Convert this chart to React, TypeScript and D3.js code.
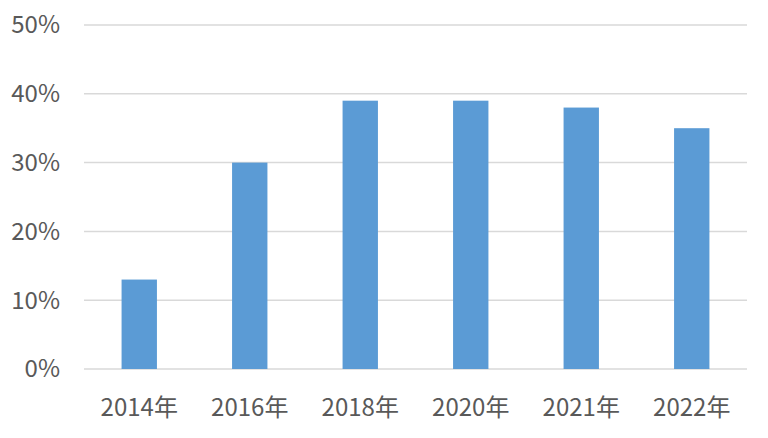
import React from "react";
import * as d3 from "d3";

const categories = ["2014年", "2016年", "2018年", "2020年", "2021年", "2022年"];
const values = [13, 30, 39, 39, 38, 35];
const yTicks = [0, 10, 20, 30, 40, 50];

const W = 768, H = 438;
const left = 84, right = 747, top = 25, bottom = 369;
const FONT = "'Noto Sans CJK SC', 'Noto Sans', sans-serif";

export default function App() {
  const x = d3.scaleBand<string>().domain(categories).range([left, right]).paddingInner(0.68).paddingOuter(0.34);
  const y = d3.scaleLinear().domain([0, 50]).range([bottom, top]);
  return (
    <svg width={W} height={H} style={{ position: "absolute", left: 0, top: 0 }}>
      <rect width={W} height={H} fill="#fff" />
      {yTicks.map((t) => (
        <g key={t}>
          <line x1={left} x2={right} y1={y(t)} y2={y(t)} stroke="#d9d9d9" strokeWidth={1.5} />
          <text x={60} y={y(t)} dy="0.35em" textAnchor="end" fontFamily={FONT} fontSize={24} fill="#595959">
            {t}%
          </text>
        </g>
      ))}
      {categories.map((c, i) => (
        <rect key={c} x={x(c)} y={y(values[i])} width={x.bandwidth()} height={y(0) - y(values[i])} fill="#5b9bd5" />
      ))}
      {categories.map((c) => (
        <text key={c} x={(x(c) as number) + x.bandwidth() / 2} y={408} dy="0.35em" textAnchor="middle" fontFamily={FONT} fontSize={24} fill="#595959">
          {c}
        </text>
      ))}
    </svg>
  );
}
